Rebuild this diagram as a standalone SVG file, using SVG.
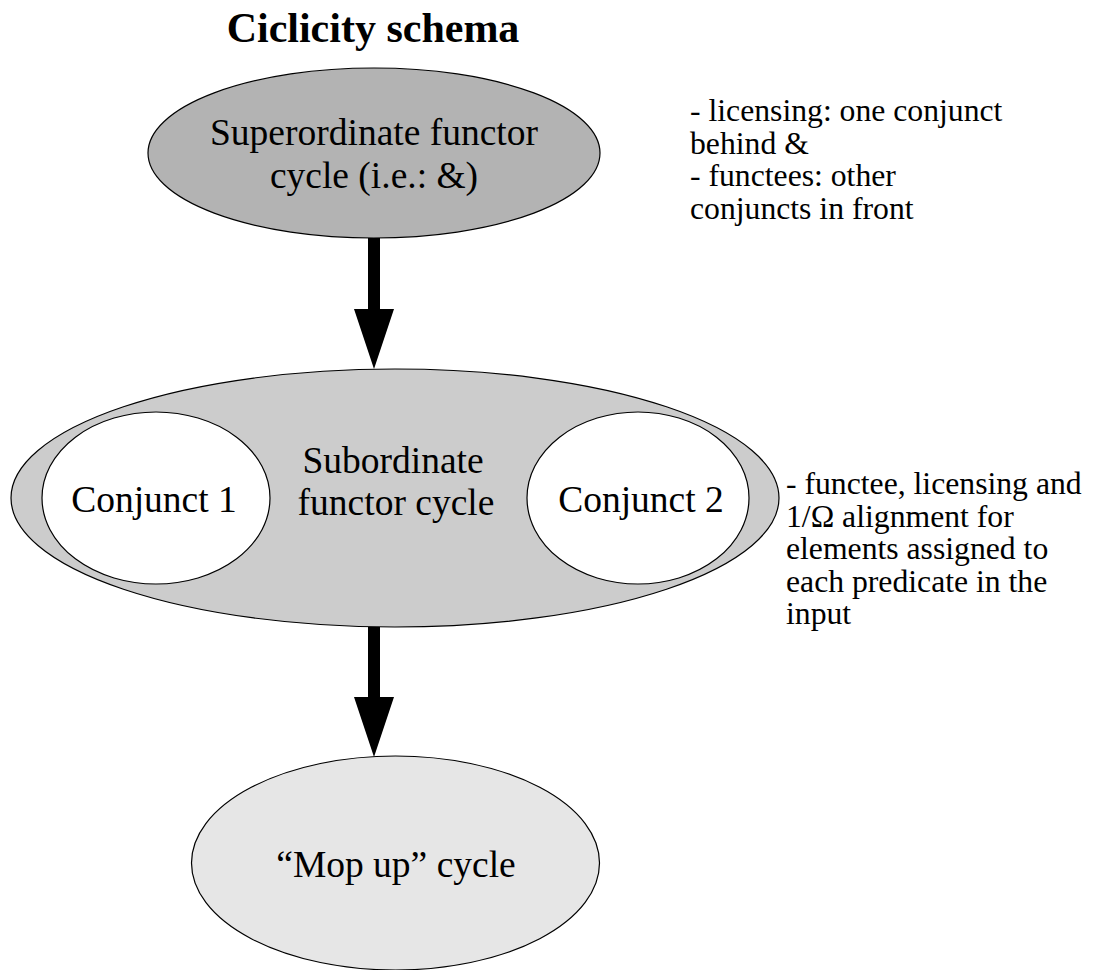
<svg xmlns="http://www.w3.org/2000/svg" width="1093" height="970" viewBox="0 0 1093 970">
<style>
.node{stroke:#000;stroke-width:1.2}
.t{font-family:"Liberation Serif","Times New Roman",serif;fill:#000}
.n{font-size:37.5px;text-anchor:middle}
.s{font-size:31.7px}
.title{font-size:42px;font-weight:bold;text-anchor:middle}
</style>
<rect width="1093" height="970" fill="#fff"/>
<text class="t title" x="373" y="42">Ciclicity schema</text>
<g id="superordinate">
<ellipse class="node" cx="374" cy="153" rx="226" ry="85" fill="#b3b3b3"/>
<text class="t n" x="374" y="145">Superordinate functor</text>
<text class="t n" x="374" y="188">cycle (i.e.: &amp;)</text>
</g>
<g id="subordinate">
<ellipse class="node" cx="395" cy="498" rx="384" ry="129" fill="#cccccc"/>
<text class="t n" x="393" y="473">Subordinate</text>
<text class="t n" x="396" y="515">functor cycle</text>
</g>
<g id="conjunct1">
<ellipse class="node" cx="156" cy="498" rx="114" ry="86" fill="#fff"/>
<text class="t n" x="154" y="512">Conjunct 1</text>
</g>
<g id="conjunct2">
<ellipse class="node" cx="638" cy="498" rx="111" ry="86" fill="#fff"/>
<text class="t n" x="641" y="512">Conjunct 2</text>
</g>
<g id="mopup">
<ellipse class="node" cx="395.5" cy="863" rx="204" ry="107" fill="#e6e6e6"/>
<text class="t n" x="396" y="877">“Mop up” cycle</text>
</g>
<g id="note1">
<text class="t s" x="690" y="121">- licensing: one conjunct</text>
<text class="t s" x="690" y="153.5">behind &amp;</text>
<text class="t s" x="690" y="186">- functees: other</text>
<text class="t s" x="690" y="218.5">conjuncts in front</text>
</g>
<g id="note2">
<text class="t s" x="786" y="494">- functee, licensing and</text>
<text class="t s" x="786" y="526.5">1/Ω alignment for</text>
<text class="t s" x="786" y="559">elements assigned to</text>
<text class="t s" x="786" y="591.5">each predicate in the</text>
<text class="t s" x="786" y="624">input</text>
</g>
<g id="connectors">
<rect x="368" y="238" width="12" height="72"/>
<polygon points="354,309 394,309 374,369"/>
<rect x="368" y="627" width="12" height="71"/>
<polygon points="354,697 394,697 374,757"/>
</g>
</svg>
